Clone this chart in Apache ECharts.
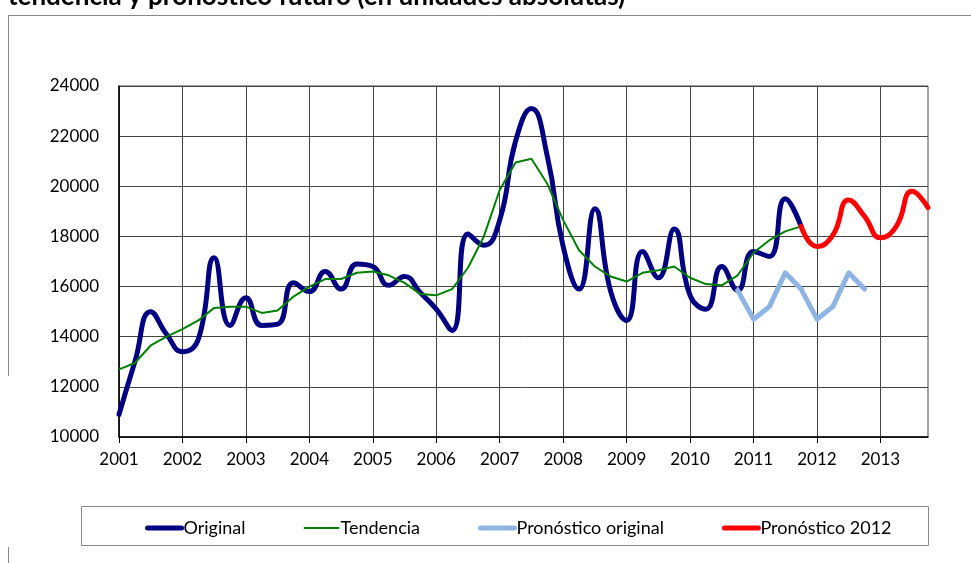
<!DOCTYPE html>
<html>
<head>
<meta charset="utf-8">
<script src="https://cdn.jsdelivr.net/npm/echarts@6/dist/echarts.min.js"></script>
<style>
  html, body { margin: 0; padding: 0; background: #fff; }
  #chart { width: 971px; height: 563px; }
</style>
</head>
<body>
<div id="chart"></div>
<script>
// años del eje x (cada año tiene 4 trimestres)
const anios = ['2001', '2002', '2003', '2004', '2005', '2006', '2007', '2008', '2009', '2010', '2011', '2012', '2013']
const trimestres = []
anios.forEach(a => {
  for (let q = 1; q <= 4; q++) trimestres.push(a + ' T' + q)
})

const yTicks = [10000, 12000, 14000, 16000, 18000, 20000, 22000, 24000]

// serie original 2001T1 - 2011T4
const original = [
  10900, 13000, 15000, 14100, 13400, 13900, 17150, 14450,
  15550, 14450, 14500, 16150, 15800, 16600, 15900, 16900,
  16800, 16050, 16400, 15750, 15100, 14250, 18100, 17650,
  18650, 21800, 23100, 21200, 17600, 15900, 19100, 15800,
  14650, 17400, 16350, 18300, 15650, 15100, 16800, 15850,
  17400, 17200, 19500, 18400
]

// tendencia 2001T1 - 2011T4
const tendencia = [
  12700, 12950, 13650, 14000, 14300, 14650, 15150, 15200,
  15200, 14950, 15050, 15600, 16000, 16300, 16300, 16550,
  16600, 16450, 16150, 15700, 15650, 15900, 16750, 18000,
  19850, 20950, 21100, 20100, 18650, 17450, 16800, 16400,
  16200, 16550, 16650, 16800, 16350, 16100, 16050, 16450,
  17350, 17850, 18200, 18400
]

// pronóstico original 2010T4 - 2012T4
const pronOriginal = [15850, 14700, 15200, 16550, 15900, 14700, 15200, 16550, 15900]
const inicioPronOriginal = 39

// pronóstico 2012: 2011T4 - 2013T4
const pron2012 = [18400, 17600, 18050, 19450, 18800, 17950, 18400, 19800, 19150]
const inicioPron2012 = 43

function rellenar(inicio, valores) {
  const arr = new Array(trimestres.length).fill(null)
  valores.forEach((v, i) => { arr[inicio + i] = v })
  return arr
}

const font = 'Lato, "Liberation Sans", sans-serif'

const chart = echarts.init(document.getElementById('chart'))
chart.setOption({
  animation: false,
  backgroundColor: '#fff',
  textStyle: { fontFamily: font },
  grid: {
    left: 119,
    top: 86,
    right: 43,
    bottom: 126,
    show: true,
    borderColor: '#444',
    borderWidth: 1
  },
  legend: {
    left: 140,
    top: 514,
    itemWidth: 34,
    itemHeight: 10,
    itemGap: 58,
    itemStyle: { opacity: 0 },
    lineStyle: { width: 'inherit', cap: 'round' },
    textStyle: { fontSize: 18, color: '#000', fontFamily: font, padding: [0, 0, 0, -3] },
    data: ['Original', 'Tendencia', 'Pronóstico original', 'Pronóstico 2012']
  },
  xAxis: {
    type: 'category',
    data: trimestres,
    boundaryGap: false,
    axisLine: { lineStyle: { color: '#000', width: 1.5 } },
    axisTick: { interval: 3, length: 6, lineStyle: { color: '#000' } },
    axisLabel: {
      interval: 3,
      margin: 14,
      fontSize: 17,
      color: '#000',
      fontFamily: font,
      formatter: v => v.slice(0, 4)
    },
    splitLine: { show: true, interval: 3, lineStyle: { color: '#444', width: 1 } }
  },
  yAxis: {
    type: 'value',
    min: yTicks[0],
    max: yTicks[yTicks.length - 1],
    interval: 2000,
    axisLine: { show: true, lineStyle: { color: '#000', width: 1.5 } },
    axisTick: { show: false },
    axisLabel: { margin: 20, fontSize: 17, color: '#000', fontFamily: font, formatter: v => String(v) },
    splitLine: { lineStyle: { color: '#444', width: 1 } }
  },
  series: [
    {
      name: 'Original',
      type: 'line',
      data: original,
      smooth: 0.5,
      showSymbol: false,
      symbol: 'none',
      lineStyle: { color: '#000080', width: 5, cap: 'round', join: 'round' },
      itemStyle: { color: '#000080' }
    },
    {
      name: 'Tendencia',
      type: 'line',
      data: tendencia,
      showSymbol: false,
      symbol: 'none',
      lineStyle: { color: '#008000', width: 2 },
      itemStyle: { color: '#008000' }
    },
    {
      name: 'Pronóstico original',
      type: 'line',
      data: rellenar(inicioPronOriginal, pronOriginal),
      showSymbol: false,
      symbol: 'none',
      lineStyle: { color: '#8db4e2', width: 5, cap: 'round', join: 'round' },
      itemStyle: { color: '#8db4e2' }
    },
    {
      name: 'Pronóstico 2012',
      type: 'line',
      data: rellenar(inicioPron2012, pron2012),
      smooth: 0.5,
      showSymbol: false,
      symbol: 'none',
      lineStyle: { color: '#ff0000', width: 5, cap: 'round', join: 'round' },
      itemStyle: { color: '#ff0000' }
    }
  ],
  graphic: [
    {
      type: 'text',
      left: 8,
      top: -16,
      style: {
        text: 'tendencia y pronóstico futuro (en unidades absolutas)',
        font: 'bold 26px ' + font,
        fill: '#000'
      }
    },
    { type: 'line', shape: { x1: 8, y1: 15.5, x2: 971, y2: 15.5 }, style: { stroke: '#888', lineWidth: 1 } },
    { type: 'line', shape: { x1: 8.5, y1: 15, x2: 8.5, y2: 376 }, style: { stroke: '#888', lineWidth: 1 } },
    { type: 'line', shape: { x1: 8.5, y1: 547, x2: 8.5, y2: 563 }, style: { stroke: '#888', lineWidth: 1 } },
    {
      type: 'rect',
      shape: { x: 81.5, y: 506.5, width: 847, height: 39 },
      style: { fill: 'none', stroke: '#888', lineWidth: 1 },
      z: -1
    }
  ]
})
window.onresize = chart.resize
</script>
</body>
</html>
